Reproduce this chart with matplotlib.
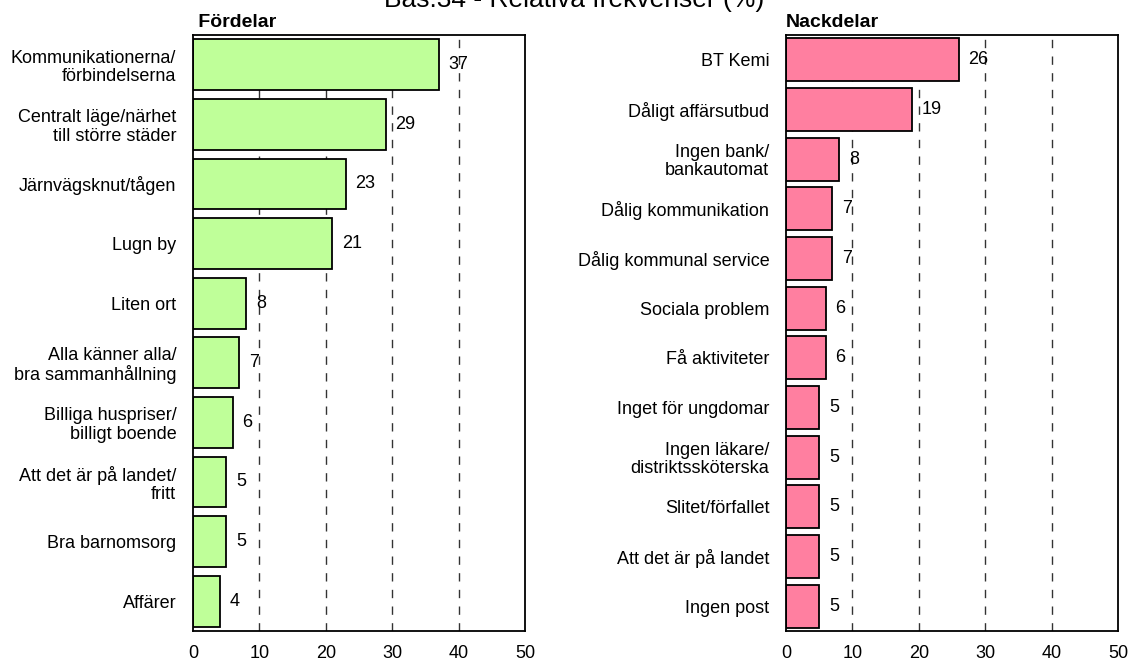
import matplotlib
matplotlib.use("Agg")
import matplotlib.pyplot as plt

plt.rcParams['font.family'] = ['Liberation Sans', 'DejaVu Sans']

title = "Bas:34 - Relativa frekvenser (%)"

pros_labels = ["Kommunikationerna/\nförbindelserna", "Centralt läge/närhet\ntill större städer",
               "Järnvägsknut/tågen", "Lugn by", "Liten ort",
               "Alla känner alla/\nbra sammanhållning", "Billiga huspriser/\nbilligt boende",
               "Att det är på landet/\nfritt", "Bra barnomsorg", "Affärer"]
pros_values = [37, 29, 23, 21, 8, 7, 6, 5, 5, 4]

cons_labels = ["BT Kemi", "Dåligt affärsutbud", "Ingen bank/\nbankautomat",
               "Dålig kommunikation", "Dålig kommunal service", "Sociala problem",
               "Få aktiviteter", "Inget för ungdomar", "Ingen läkare/\ndistriktssköterska",
               "Slitet/förfallet", "Att det är på landet", "Ingen post"]
cons_values = [26, 19, 8, 7, 7, 6, 6, 5, 5, 5, 5, 5]

xticks = [0, 10, 20, 30, 40, 50]

fig = plt.figure(figsize=(11.29, 6.62), dpi=100)
W, H = 1129, 662

def panel(left_px, labels, values, color, heading, bar_h):
    ax = fig.add_axes([left_px / W, 1 - 631 / H, 332 / W, 596 / H])
    n = len(values)
    y = list(range(n))
    ax.barh(y, values, height=bar_h, color=color, edgecolor='black', linewidth=1.3, zorder=2)
    ax.set_ylim(n - 0.5, -0.5)
    ax.set_xlim(0, 50)
    ax.set_xticks(xticks)
    ax.set_xticklabels([str(t) for t in xticks], fontsize=13)
    ax.set_yticks(y)
    ax.set_yticklabels(labels, fontsize=13, linespacing=1.1)
    ax.tick_params(axis='both', length=0)
    ax.tick_params(axis='y', pad=12)
    ax.tick_params(axis='x', pad=10)
    for t in xticks[1:-1]:
        ax.axvline(t, color='#333333', linestyle=(0, (6, 6)), linewidth=1.0, zorder=1)
    for yi, v in zip(y, values):
        ax.annotate(str(v), (v, yi), xytext=(7, 0), textcoords='offset points',
                    va='center', ha='left', fontsize=13, zorder=3)
    for s in ax.spines.values():
        s.set_linewidth(1.3)
    ax.text(0.0, 1.006, heading, transform=ax.transAxes, fontsize=14,
            fontweight='bold', ha='left', va='bottom')
    return ax

panel(193, pros_labels, pros_values, '#BFFF99', ' Fördelar', 0.85)
panel(786, cons_labels, cons_values, '#FF7FA0', 'Nackdelar', 0.87)

fig.text(574 / W, 1 - 7 / H, title, ha='center', va='baseline', fontsize=19)

fig.savefig('out.png', dpi=100)
